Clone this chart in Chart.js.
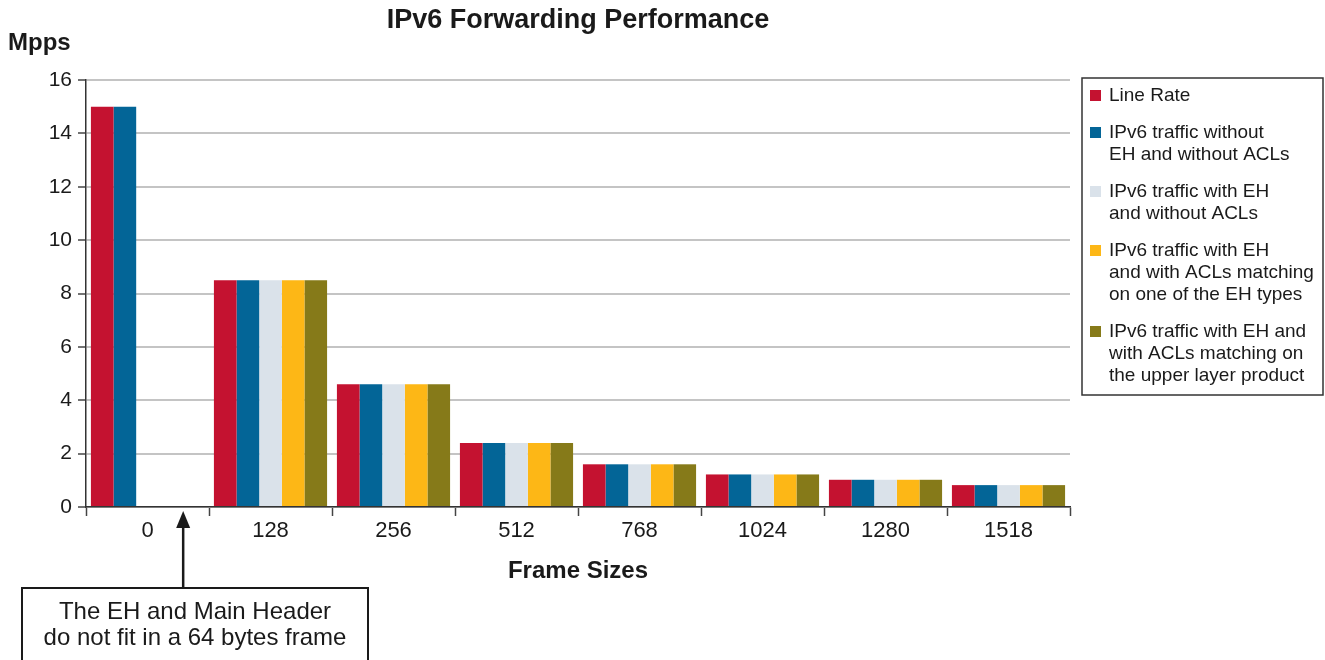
<!DOCTYPE html>
<html>
<head>
<meta charset="utf-8">
<script src="https://cdn.jsdelivr.net/npm/chart.js@4.4.1/dist/chart.umd.min.js"></script>
<style>
  body { margin: 0; background: #fff; }
</style>
</head>
<body>
<canvas id="chart" width="1325" height="660"></canvas>
<script>
const categories = ['0', '128', '256', '512', '768', '1024', '1280', '1518'];

const seriesLabels = [
  ['Line Rate'],
  ['IPv6 traffic without', 'EH and without ACLs'],
  ['IPv6 traffic with EH', 'and without ACLs'],
  ['IPv6 traffic with EH', 'and with ACLs matching', 'on one of the EH types'],
  ['IPv6 traffic with EH and', 'with ACLs matching on', 'the upper layer product']
];

// Mpps per frame size (0 = 64 byte slot, EH does not fit there)
const lineRate = [15, 8.5, 4.6, 2.4, 1.6, 1.22, 1.02, 0.82];
const noEhNoAcl = [15, 8.5, 4.6, 2.4, 1.6, 1.22, 1.02, 0.82];
const ehNoAcl = [null, 8.5, 4.6, 2.4, 1.6, 1.22, 1.02, 0.82];
const ehAclEhType = [null, 8.5, 4.6, 2.4, 1.6, 1.22, 1.02, 0.82];
const ehAclUpper = [null, 8.5, 4.6, 2.4, 1.6, 1.22, 1.02, 0.82];

const seriesColors = ['#c41230', '#036597', '#dae2ea', '#fdb716', '#867a19'];

const noteLines = ['The EH and Main Header', 'do not fit in a 64 bytes frame'];

const FONT = "'Liberation Sans', Arial, sans-serif";
const INK = '#1a1a1a';

const extras = {
  id: 'extras',
  afterDraw(chart) {
    const { ctx, chartArea, scales } = chart;
    const cx = (chartArea.left + chartArea.right) / 2;
    ctx.save();
    ctx.fillStyle = INK;
    ctx.textBaseline = 'middle';

    // title + axis titles
    ctx.textAlign = 'center';
    ctx.font = 'bold 27px ' + FONT;
    ctx.fillText('IPv6 Forwarding Performance', cx, 21);
    ctx.font = 'bold 24px ' + FONT;
    ctx.fillText('Frame Sizes', cx, 571);
    ctx.textAlign = 'left';
    ctx.font = 'bold 24px ' + FONT;
    ctx.fillText('Mpps', 8, 43);

    // note arrow pointing at the empty 64 byte slot
    const xs = scales.x;
    const ax = xs.getPixelForValue(0) + (xs.width / categories.length) * 0.29;
    ctx.strokeStyle = INK;
    ctx.lineWidth = 2.5;
    ctx.beginPath();
    ctx.moveTo(ax, 588);
    ctx.lineTo(ax, 526);
    ctx.stroke();
    ctx.beginPath();
    ctx.moveTo(ax, 511);
    ctx.lineTo(ax - 7, 528);
    ctx.lineTo(ax + 7, 528);
    ctx.closePath();
    ctx.fill();

    ctx.lineWidth = 2;
    ctx.strokeRect(22, 588, 346, 100);
    ctx.textAlign = 'center';
    ctx.font = '24px ' + FONT;
    noteLines.forEach((t, i) => ctx.fillText(t, 195, 612 + i * 26));

    // legend
    ctx.lineWidth = 1.5;
    ctx.strokeStyle = '#333';
    ctx.strokeRect(1082, 78, 241, 317);
    ctx.textAlign = 'left';
    ctx.font = '19px ' + FONT;
    let y = 96;
    chart.data.datasets.forEach(ds => {
      ctx.fillStyle = ds.backgroundColor;
      ctx.fillRect(1090, y - 6, 11, 11);
      ctx.fillStyle = INK;
      ds.label.forEach((line, i) => ctx.fillText(line, 1109, y + i * 22));
      y += ds.label.length * 22 + 15;
    });
    ctx.restore();
  }
};

const seriesValues = [lineRate, noEhNoAcl, ehNoAcl, ehAclEhType, ehAclUpper];

new Chart(document.getElementById('chart'), {
  type: 'bar',
  data: {
    labels: categories,
    datasets: seriesValues.map((values, i) => ({
      label: seriesLabels[i],
      data: values,
      backgroundColor: seriesColors[i],
      borderWidth: 0,
      categoryPercentage: 0.92,
      barPercentage: 1.0
    }))
  },
  options: {
    responsive: false,
    animation: false,
    devicePixelRatio: 1,
    layout: { padding: { left: 0, right: 255, top: 80, bottom: 0 } },
    plugins: {
      legend: { display: false },
      title: { display: false },
      tooltip: { enabled: false }
    },
    scales: {
      x: {
        afterFit(scale) { scale.height = 153; },
        grid: {
          offset: true,
          drawOnChartArea: false,
          tickLength: 9,
          tickColor: '#444',
          tickWidth: 1.5
        },
        border: { color: '#333', width: 1.5 },
        ticks: { font: { family: FONT, size: 22 }, color: INK, padding: 2 }
      },
      y: {
        min: 0,
        max: 16,
        afterFit(scale) { scale.width = 86; },
        grid: {
          color: '#c4c4c4',
          lineWidth: 2,
          tickLength: 8,
          tickColor: '#444',
          tickWidth: 1.5
        },
        border: { color: '#333', width: 1.5 },
        ticks: { stepSize: 2, font: { family: FONT, size: 21 }, color: INK, padding: 6 }
      }
    }
  },
  plugins: [extras]
});
</script>
</body>
</html>
